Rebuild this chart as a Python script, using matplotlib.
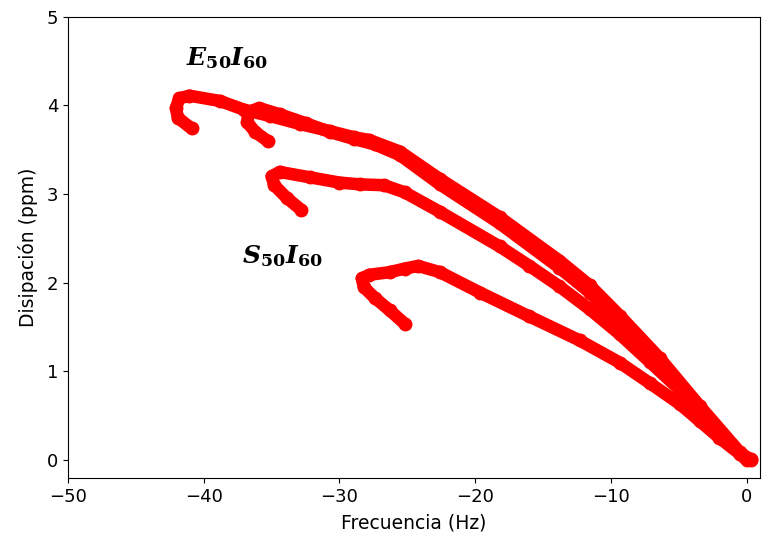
import matplotlib
matplotlib.use("Agg")
import matplotlib.pyplot as plt

# Curvas frecuencia (Hz) vs disipación (ppm)
e1_x = [-40.9, -41.9, -42.05, -41.8, -41.05, -38.8, -37.0, -35.1, -32.9, -30.7,
        -28.9, -27.8, -25.55, -22.6, -18.2, -13.8, -11.55, -9.35, -6.4, -3.45,
        -0.5, 0.3]
e1_y = [3.74, 3.86, 3.97, 4.08, 4.11, 4.05, 3.95, 3.88, 3.79, 3.71,
        3.64, 3.61, 3.48, 3.17, 2.74, 2.25, 1.97, 1.63, 1.15, 0.61,
        0.09, 0.0]

e2_x = [-35.3, -36.2, -36.8, -36.7, -35.9, -34.4, -32.5, -30.7, -28.9, -27.4,
        -25.55, -22.6, -18.2, -13.8, -11.55, -9.35, -6.4, -3.45, -0.5, 0.0]
e2_y = [3.60, 3.70, 3.81, 3.93, 3.97, 3.90, 3.80, 3.70, 3.62, 3.56,
        3.44, 3.11, 2.67, 2.17, 1.89, 1.55, 1.08, 0.55, 0.07, 0.0]

s1_x = [-32.8, -33.9, -34.8, -35.0, -34.4, -32.2, -30.0, -28.5, -26.7, -25.2,
        -22.6, -18.2, -16.0, -13.8, -11.55, -9.35, -7.15, -4.9, -2.7, -0.5]
s1_y = [2.82, 2.96, 3.10, 3.20, 3.25, 3.19, 3.13, 3.11, 3.10, 3.02,
        2.80, 2.41, 2.19, 1.96, 1.70, 1.42, 1.11, 0.79, 0.45, 0.08]

s2_x = [-25.2, -26.3, -27.4, -28.2, -28.35, -27.8, -26.3, -25.2, -24.2, -22.6,
        -19.65, -16.0, -12.3, -9.35, -7.15, -4.9, -3.45, -2.0, -0.5, 0.35]
s2_y = [1.54, 1.69, 1.83, 1.95, 2.05, 2.09, 2.12, 2.16, 2.19, 2.12,
        1.89, 1.62, 1.35, 1.10, 0.87, 0.63, 0.44, 0.25, 0.07, 0.01]

plt.rcParams['mathtext.fontset'] = 'dejavuserif'

fig = plt.figure(figsize=(7.64, 5.4), dpi=100)
ax = fig.add_axes([0.089, 0.115, 0.906, 0.854])

for xs, ys in [(e1_x, e1_y), (e2_x, e2_y), (s1_x, s1_y), (s2_x, s2_y)]:
    ax.plot(xs, ys, color='red', linewidth=9, solid_capstyle='round',
            solid_joinstyle='round', marker='o', markersize=9)

ax.text(-41.3, 4.46, r'$\mathbfit{E}_{\mathbf{50}}\mathbfit{I}_{\mathbf{60}}$', fontsize=18)
ax.text(-37.2, 2.22, r'$\mathbfit{S}_{\mathbf{50}}\mathbfit{I}_{\mathbf{60}}$', fontsize=18)

ax.set_xlim(-50, 1)
ax.set_ylim(-0.2, 5)
ax.set_xticks([-50, -40, -30, -20, -10, 0])
ax.set_yticks([0, 1, 2, 3, 4, 5])
ax.tick_params(labelsize=13)
ax.set_xlabel('Frecuencia (Hz)', fontsize=13.5, labelpad=6)
ax.set_ylabel('Disipación (ppm)', fontsize=13.5, labelpad=6)

fig.savefig('out.png', dpi=100)
